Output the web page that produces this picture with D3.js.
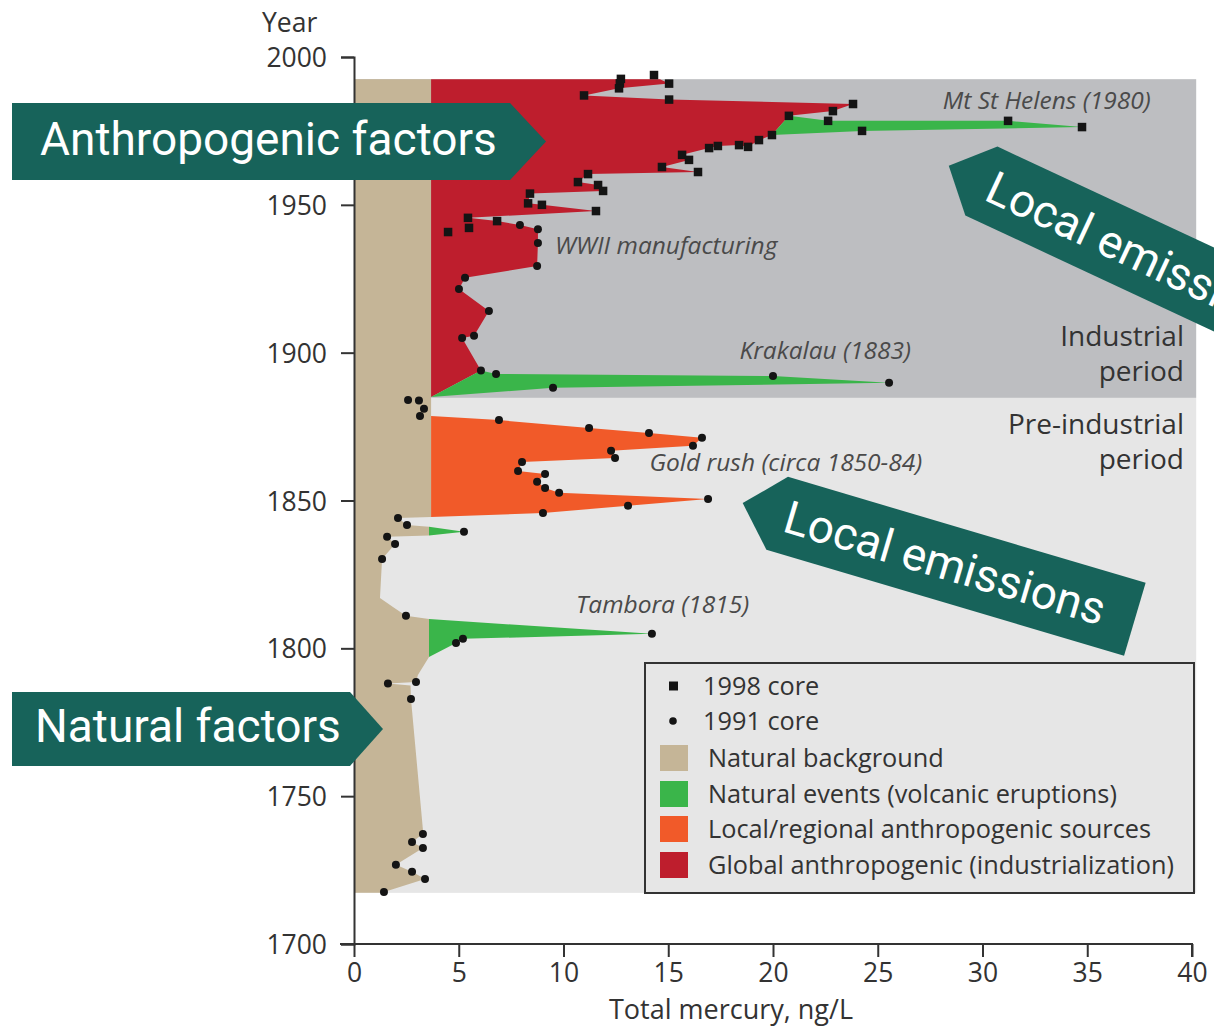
<!DOCTYPE html>
<html>
<head>
<meta charset="utf-8">
<script src="https://cdn.jsdelivr.net/npm/d3@7"></script>
<style>
  body { margin: 0; background: #ffffff; }
  svg { display: block; }
</style>
</head>
<body>
<svg id="chart" width="1214" height="1027"></svg>
<script>
// ---- Mercury in ice core, total Hg (ng/L) by year ----

// 1998 core samples: [year, total mercury ng/L]
const core1998 = [
  [1993.9, 14.32], [1992.6, 12.74], [1991.1, 12.69], [1991.0, 15.04], [1989.4, 12.65],
  [1987.0, 10.98], [1985.6, 15.04], [1984.1, 23.82], [1981.7, 22.86], [1980.1, 20.76],
  [1978.4, 22.63], [1978.4, 31.22], [1976.3, 34.75], [1975.0, 24.25], [1973.6, 19.95],
  [1971.9, 19.33], [1969.6, 18.81], [1970.2, 18.38], [1969.9, 17.37], [1969.2, 16.95],
  [1966.9, 15.66], [1965.2, 15.99], [1962.8, 14.70], [1961.1, 16.42], [1960.4, 11.17],
  [1957.7, 10.69], [1956.7, 11.65], [1954.7, 11.89], [1953.8, 8.40], [1950.5, 8.31],
  [1950.0, 8.97], [1947.9, 11.55], [1945.6, 5.44], [1944.5, 6.83], [1942.2, 5.49],
  [1940.8, 4.49]
];

// 1991 core samples: [year, total mercury ng/L]
const core1991 = [
  [1943.2, 7.92], [1941.7, 8.78], [1937.1, 8.78], [1929.3, 8.74], [1925.3, 5.30],
  [1921.5, 5.01], [1914.1, 6.44], [1905.7, 5.73], [1905.0, 5.16], [1894.0, 6.06],
  [1892.8, 6.78], [1888.1, 9.50], [1892.1, 20.00], [1889.8, 25.54], [1884.0, 2.58],
  [1883.8, 3.10], [1881.0, 3.34], [1878.6, 3.15], [1877.2, 6.92], [1874.5, 11.22],
  [1872.8, 14.08], [1871.2, 16.61], [1868.5, 16.18], [1866.8, 12.27], [1864.4, 12.46],
  [1863.0, 8.02], [1860.0, 7.83], [1859.0, 9.12], [1856.3, 8.74], [1854.2, 9.12],
  [1852.6, 9.79], [1850.5, 16.90], [1848.2, 13.08], [1845.8, 9.02], [1844.1, 2.10],
  [1841.7, 2.53], [1839.4, 5.25], [1837.7, 1.58], [1835.3, 1.96], [1830.2, 1.34],
  [1811.0, 2.48], [1804.9, 14.22], [1803.2, 5.20], [1801.8, 4.87], [1788.6, 2.96],
  [1788.1, 1.62], [1782.9, 2.72], [1737.2, 3.29], [1734.5, 2.77], [1732.5, 3.29],
  [1726.8, 2.00], [1724.4, 2.77], [1722.0, 3.39], [1717.6, 1.43]
];

// Natural background level during the industrial era (ng/L)
const backgroundLevel = 3.68;

// Right-hand outline of the natural background layer: [year, ng/L]
const naturalOutline = [
  [1992.5, 3.68], [1844.4, 3.68], [1844.1, 2.10], [1841.7, 2.53], [1841.1, 3.58],
  [1838.2, 3.58], [1837.7, 1.58], [1835.3, 1.96], [1830.2, 1.34], [1817.0, 1.24],
  [1814.0, 1.86], [1811.0, 2.48], [1809.9, 3.58], [1797.1, 3.58], [1791.0, 3.05],
  [1788.6, 2.96], [1788.1, 1.62], [1787.4, 2.70], [1782.9, 2.72], [1738.6, 3.29],
  [1737.2, 3.29], [1734.5, 2.77], [1732.5, 3.29], [1726.8, 2.00], [1724.4, 2.77],
  [1722.0, 3.39], [1717.6, 1.43], [1717.3, 1.30]
];

// Global anthropogenic envelope (right edge), from background level outwards
const globalOutline = [
  [1992.5, 14.6], [1991.0, 15.04], [1989.4, 12.65], [1987.0, 10.98], [1985.6, 15.04],
  [1984.1, 23.82], [1981.7, 22.86], [1980.1, 20.76], [1973.6, 19.95], [1971.9, 19.33],
  [1969.6, 18.81], [1970.2, 18.38], [1969.9, 17.37], [1969.2, 16.95], [1966.9, 15.66],
  [1965.2, 15.99], [1962.8, 14.70], [1961.1, 16.42], [1960.4, 11.17], [1957.7, 10.69],
  [1956.7, 11.65], [1954.7, 11.89], [1953.8, 8.40], [1950.5, 8.31], [1950.0, 8.97],
  [1947.9, 11.55], [1945.6, 5.44], [1944.5, 6.83], [1943.2, 7.92], [1941.7, 8.78],
  [1937.1, 8.78], [1929.3, 8.74], [1925.3, 5.30], [1921.5, 5.01], [1914.1, 6.44],
  [1905.7, 5.73], [1905.0, 5.16], [1894.0, 6.06], [1885.0, 3.68]
];

// Local / regional anthropogenic envelope (gold rush)
const localOutline = [
  [1878.6, 3.68], [1877.2, 6.92], [1874.5, 11.22], [1872.8, 14.08], [1871.2, 16.61],
  [1868.5, 16.18], [1866.8, 12.27], [1864.4, 12.46], [1863.0, 8.02], [1860.0, 7.83],
  [1859.0, 9.12], [1856.3, 8.74], [1854.2, 9.12], [1852.6, 9.79], [1850.5, 16.90],
  [1848.2, 13.08], [1845.8, 9.02], [1844.4, 3.68]
];

// Volcanic eruption spikes (closed outlines)
const volcanicOutlines = [
  // Mt St Helens
  [[1980.1, 20.76], [1978.4, 22.63], [1978.4, 31.22], [1976.3, 34.75], [1975.0, 24.25], [1973.6, 19.95]],
  // Krakatau
  [[1885.0, 3.68], [1894.0, 6.06], [1892.8, 6.78], [1892.1, 20.00], [1889.8, 25.54], [1888.1, 9.50]],
  // small 1840 event
  [[1841.1, 3.58], [1839.4, 5.25], [1838.2, 3.58]],
  // Tambora
  [[1809.9, 3.58], [1804.9, 14.22], [1803.2, 5.20], [1801.8, 4.87], [1797.1, 3.58]]
];

// Period shading: [from year, to year]
const industrialPeriod = [1884.7, 1992.5];
const preIndustrialPeriod = [1717.3, 1884.7];

const xTicks = [0, 5, 10, 15, 20, 25, 30, 35, 40];
const yTicks = [1700, 1750, 1800, 1850, 1900, 1950, 2000];

const annotations = [
  { text: "Mt St Helens (1980)", year: 1982.3, value: 28.1 },
  { text: "WWII manufacturing", year: 1933.3, value: 9.6 },
  { text: "Krakalau (1883)", year: 1898.0, value: 18.4 },
  { text: "Gold rush (circa 1850-84)", year: 1859.9, value: 14.1 },
  { text: "Tambora (1815)", year: 1811.8, value: 10.6 }
];

const legendItems = [
  { label: "1998 core", kind: "square" },
  { label: "1991 core", kind: "circle" },
  { label: "Natural background", kind: "swatch", color: "#c5b597" },
  { label: "Natural events (volcanic eruptions)", kind: "swatch", color: "#3ab54a" },
  { label: "Local/regional anthropogenic sources", kind: "swatch", color: "#f15a29" },
  { label: "Global anthropogenic (industrialization)", kind: "swatch", color: "#be1e2d" }
];

// ---- drawing ----
const COLORS = {
  industrial: "#bdbec1",
  preIndustrial: "#e6e6e6",
  natural: "#c5b597",
  volcanic: "#3ab54a",
  local: "#f15a29",
  global: "#be1e2d",
  marker: "#141414",
  ink: "#333333",
  note: "#4a4a4a",
  teal: "#17635a"
};

const svg = d3.select("#chart");
const x = d3.scaleLinear().domain([0, 40]).range([354, 1192]);
const y = d3.scaleLinear().domain([1700, 2000]).range([944, 57]);
const xMax = 40.2;

const poly = d3.line().x(d => x(d[1])).y(d => y(d[0]));

// period bands
svg.append("rect")
  .attr("x", x(0)).attr("width", x(xMax) - x(0))
  .attr("y", y(industrialPeriod[1])).attr("height", y(industrialPeriod[0]) - y(industrialPeriod[1]))
  .attr("fill", COLORS.industrial);
svg.append("rect")
  .attr("x", x(0)).attr("width", x(xMax) - x(0))
  .attr("y", y(preIndustrialPeriod[1])).attr("height", y(preIndustrialPeriod[0]) - y(preIndustrialPeriod[1]))
  .attr("fill", COLORS.preIndustrial);

// natural background
const naturalPts = [[naturalOutline[0][0], 0], ...naturalOutline, [naturalOutline[naturalOutline.length - 1][0], 0]];
svg.append("path").attr("d", poly(naturalPts) + "Z").attr("fill", COLORS.natural);

// global anthropogenic
const globalPts = [[globalOutline[0][0], backgroundLevel], ...globalOutline];
svg.append("path").attr("d", poly(globalPts) + "Z").attr("fill", COLORS.global);

// local anthropogenic
const localPts = [[localOutline[0][0], backgroundLevel], ...localOutline];
svg.append("path").attr("d", poly(localPts) + "Z").attr("fill", COLORS.local);

// volcanic events
svg.selectAll("path.volcanic").data(volcanicOutlines).join("path")
  .attr("class", "volcanic")
  .attr("d", d => poly(d) + "Z")
  .attr("fill", COLORS.volcanic);

// sample markers
const sq = 8.5;
svg.selectAll("rect.c1998").data(core1998).join("rect")
  .attr("class", "c1998")
  .attr("x", d => x(d[1]) - sq / 2).attr("y", d => y(d[0]) - sq / 2)
  .attr("width", sq).attr("height", sq)
  .attr("fill", COLORS.marker);
svg.selectAll("circle.c1991").data(core1991).join("circle")
  .attr("class", "c1991")
  .attr("cx", d => x(d[1])).attr("cy", d => y(d[0]))
  .attr("r", 4)
  .attr("fill", COLORS.marker);

// axes
const fontAxis = "'Open Sans', 'Noto Sans', sans-serif";
const yAxis = d3.axisLeft(y).tickValues(yTicks).tickFormat(d3.format("d")).tickSize(13).tickPadding(14);
const gy = svg.append("g").attr("transform", `translate(${x(0)},0)`).call(yAxis);
const xAxis = d3.axisBottom(x).tickValues(xTicks).tickFormat(d3.format("d")).tickSize(13).tickPadding(6);
const gx = svg.append("g").attr("transform", `translate(0,${y(1700)})`).call(xAxis);
[gx, gy].forEach(g => {
  g.selectAll("path, line").attr("stroke", COLORS.ink).attr("stroke-width", 2);
  g.selectAll("text").attr("fill", COLORS.ink).style("font-family", fontAxis).style("font-size", "26.5px");
});
gx.select(".domain").attr("d", `M${x(0) - 14},0H${x(40)}V13`);
gx.selectAll(".tick text").attr("y", 37.5).attr("dy", null);
gy.selectAll(".tick text").attr("dy", "0.36em");

svg.append("text").text("Year")
  .attr("x", 262).attr("y", 32)
  .attr("fill", COLORS.ink).style("font-family", fontAxis).style("font-size", "26.5px");
svg.append("text").text("Total mercury, ng/L")
  .attr("x", 731).attr("y", 1018.5).attr("text-anchor", "middle")
  .attr("fill", COLORS.ink).style("font-family", fontAxis).style("font-size", "27px");

// event annotations
svg.selectAll("text.note").data(annotations).join("text")
  .attr("class", "note")
  .attr("x", d => x(d.value)).attr("y", d => y(d.year))
  .text(d => d.text)
  .attr("fill", COLORS.note)
  .style("font-family", fontAxis).style("font-style", "italic").style("font-size", "24.5px");

// period labels
const periodLabels = [
  { lines: ["Industrial", "period"], top: 346 },
  { lines: ["Pre-industrial", "period"], top: 434 }
];
periodLabels.forEach(p => {
  p.lines.forEach((t, i) => {
    svg.append("text").text(t)
      .attr("x", 1184).attr("y", p.top + i * 35).attr("text-anchor", "end")
      .attr("fill", COLORS.ink).style("font-family", fontAxis).style("font-size", "28px");
  });
});

// legend
const lg = svg.append("g");
lg.append("rect").attr("x", 645).attr("y", 663).attr("width", 549).attr("height", 230)
  .attr("fill", COLORS.preIndustrial).attr("stroke", COLORS.ink).attr("stroke-width", 2);
const rowY = [686, 721, 758, 794, 829, 865];
legendItems.forEach((it, i) => {
  const cy = rowY[i];
  if (it.kind === "square") {
    lg.append("rect").attr("x", 669).attr("y", cy - 4.5).attr("width", 9).attr("height", 9).attr("fill", COLORS.marker);
  } else if (it.kind === "circle") {
    lg.append("circle").attr("cx", 673).attr("cy", cy).attr("r", 3.8).attr("fill", COLORS.marker);
  } else {
    lg.append("rect").attr("x", 660).attr("y", cy - 13).attr("width", 28).attr("height", 26).attr("fill", it.color);
  }
  lg.append("text").text(it.label)
    .attr("x", it.kind === "swatch" ? 708 : 703).attr("y", cy + 9)
    .attr("fill", COLORS.ink).style("font-family", fontAxis).style("font-size", "25.3px");
});

// callout arrows
const fontCallout = "Roboto, 'Open Sans', sans-serif";
function rightArrow(x0, x1, tip, top, bottom, label, tx) {
  const mid = (top + bottom) / 2;
  svg.append("path")
    .attr("d", `M${x0},${top}H${x1}L${tip},${mid}L${x1},${bottom}H${x0}Z`)
    .attr("fill", COLORS.teal);
  svg.append("text").text(label)
    .attr("x", tx).attr("y", mid + 13)
    .attr("fill", "#ffffff").style("font-family", fontCallout).style("font-size", "46px");
}
rightArrow(12, 510, 546, 103, 180, "Anthropogenic factors", 40);
rightArrow(12, 350, 383, 692, 766, "Natural factors", 35);

function leftArrow(cx, cy, angle, label) {
  const g = svg.append("g").attr("transform", `translate(${cx},${cy}) rotate(${angle})`);
  g.append("path")
    .attr("d", "M-211,0L-175,-38H198V38H-175Z")
    .attr("fill", COLORS.teal);
  g.append("text").text(label)
    .attr("x", 0).attr("y", 16).attr("text-anchor", "middle")
    .attr("fill", "#ffffff").style("font-family", fontCallout).style("font-size", "46px");
}
leftArrow(945, 563, 16.5, "Local emissions");
// this callout runs off the right edge of the figure
leftArrow(1140, 255, 25, "Local emissions");
</script>
</body>
</html>
